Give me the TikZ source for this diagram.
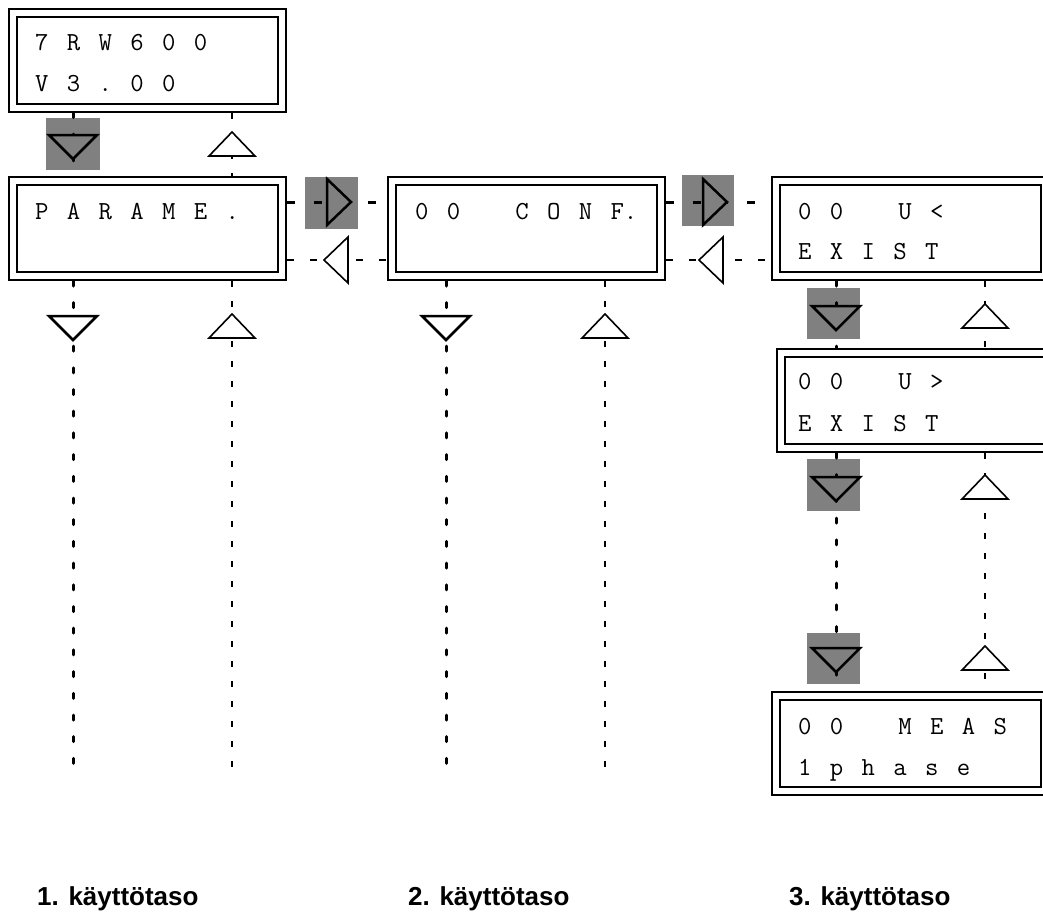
\documentclass[tikz,border=0pt]{standalone}
\usepackage{fontspec}
\newfontfamily\lblfont{Liberation Sans}
\begin{document}
\begin{tikzpicture}[x=1pt,y=-1pt,
  lcdbox/.style={draw, double, line width=2pt, double distance=6pt,
    minimum width=269pt, minimum height=95pt, inner sep=0pt, outer sep=5pt},
  lcdtext/.style={anchor=base west, inner sep=0pt,
    font={\ttfamily\fontsize{26}{30}\selectfont\spaceskip=18.35pt\relax}},
  lbl/.style={anchor=base west, inner sep=0pt,
    font=\lblfont\bfseries\fontsize{26}{30}\selectfont},
  shd/.style={fill=black!50},
  fwd/.style={line width=3pt, line cap=round, dash pattern=on 5pt off 16.7pt},
  bwd/.style={line width=1.8pt, dash pattern=on 6pt off 14pt},
  fwdh/.style={line width=3pt, dash pattern=on 8pt off 19pt},
  bwdh/.style={line width=1.8pt, dash pattern=on 7pt off 16pt},
  pics/dtri/.style={code={\filldraw[line width=2.5pt, fill=#1] (-24,0) -- (24,0) -- (0,24) -- cycle;}},
  pics/dtri/.default=white,
  pics/rtri/.style={code={\filldraw[line width=2.5pt, fill=#1] (0,-23) -- (0,23) -- (24,0) -- cycle;}},
  pics/rtri/.default=white,
  pics/utri/.style={code={\filldraw[line width=1.6pt, fill=white] (-23,0) -- (23,0) -- (0,-24) -- cycle;}},
  pics/ltri/.style={code={\filldraw[line width=1.6pt, fill=white] (0,-23) -- (0,23) -- (-24,0) -- cycle;}},
]
\useasboundingbox (0,0) rectangle (1043,911);
\clip (0,0) rectangle (1043,911);

% column / row reference coordinates
\coordinate (c1) at (73,0);
\coordinate (c2) at (232,0);
\coordinate (c3) at (446,0);
\coordinate (c4) at (605,0);
\coordinate (c5) at (836,0);
\coordinate (c6) at (985,0);
\coordinate (rT) at (0,202);
\coordinate (rB) at (0,260);
\coordinate (e) at (0,780);

% display boxes
\node[lcdbox] (b1) at (147.5,60) {};
\node[lcdbox] (b2) at (147.5,228.5) {};
\node[lcdbox] (b3) at (526.5,228.5) {};
\node[lcdbox] (b4) at (910.5,228.5) {};
\node[lcdbox] (b5) at (915,400.5) {};
\node[lcdbox] (b6) at (910.5,743.5) {};

% grey key highlights
\fill[shd] (46,118) rectangle (100,170);
\fill[shd] (305,177) rectangle (358,229);
\fill[shd] (682,175) rectangle (734,226);
\fill[shd] (807,288) rectangle (860,339);
\fill[shd] (807,459) rectangle (860,511);
\fill[shd] (807,633) rectangle (860,684);

% connectors
\draw[fwd] (b1.south -| c1) -- (b2.north -| c1);
\draw[bwd] (b1.south -| c2) -- (b2.north -| c2);
\draw[fwd] (b2.south -| c1) -- (c1 |- e);
\draw[bwd] (b2.south -| c2) -- (c2 |- e);
\draw[fwd] (b3.south -| c3) -- (c3 |- e);
\draw[bwd] (b3.south -| c4) -- (c4 |- e);
\draw[fwd] (b4.south -| c5) -- (b5.north -| c5);
\draw[bwd] (b4.south -| c6) -- (b5.north -| c6);
\draw[fwd] (b5.south -| c5) -- (b6.north -| c5);
\draw[bwd] (b5.south -| c6) -- (b6.north -| c6);
\draw[fwdh] (b2.east |- rT) -- (b3.west |- rT);
\draw[bwdh] (b2.east |- rB) -- (b3.west |- rB);
\draw[fwdh] (b3.east |- rT) -- (b4.west |- rT);
\draw[bwdh] (b3.east |- rB) -- (b4.west |- rB);

% key triangles
\pic at (73,135) {dtri=black!50};
\pic at (232,156) {utri};
\pic at (73,316) {dtri};
\pic at (232,338) {utri};
\pic at (446,316) {dtri};
\pic at (605,338) {utri};
\pic at (327,202) {rtri=black!50};
\pic at (348,260) {ltri};
\pic at (703,202) {rtri=black!50};
\pic at (723,260) {ltri};
\pic at (836,306) {dtri=black!50};
\pic at (985,328) {utri};
\pic at (836,477) {dtri=black!50};
\pic at (985,499) {utri};
\pic at (836,648) {dtri=black!50};
\pic at (985,670) {utri};

% display texts
\node[lcdtext] (t1a) at (35,50) {7\ R\ W\ 6\ 0\ 0};
\node[lcdtext] (t1b) at (35,91) {V\ 3\ .\ 0\ 0};
\node[lcdtext] (t2) at (35,219) {P\ A\ R\ A\ M\ E\ .};
\node[lcdtext] (t3) at (415,219) {0\ 0\ \ \ C\ O\ N\ F.};
\node[lcdtext] (t4a) at (798,219) {0\ 0\ \ \ U\ <};
\node[lcdtext] (t4b) at (798,259) {E\ X\ I\ S\ T};
\node[lcdtext] (t5a) at (798,389) {0\ 0\ \ \ U\ >};
\node[lcdtext] (t5b) at (798,431) {E\ X\ I\ S\ T};
\node[lcdtext] (t6a) at (798,734) {0\ 0\ \ \ M\ E\ A\ S};
\node[lcdtext] (t6b) at (798,775) {1\ p\ h\ a\ s\ e};

% level labels
\node[lbl] (L1) at (37,905) {1. käyttötaso};
\node[lbl] (L2) at (408,905) {2. käyttötaso};
\node[lbl] (L3) at (789,905) {3. käyttötaso};
\end{tikzpicture}
\end{document}
